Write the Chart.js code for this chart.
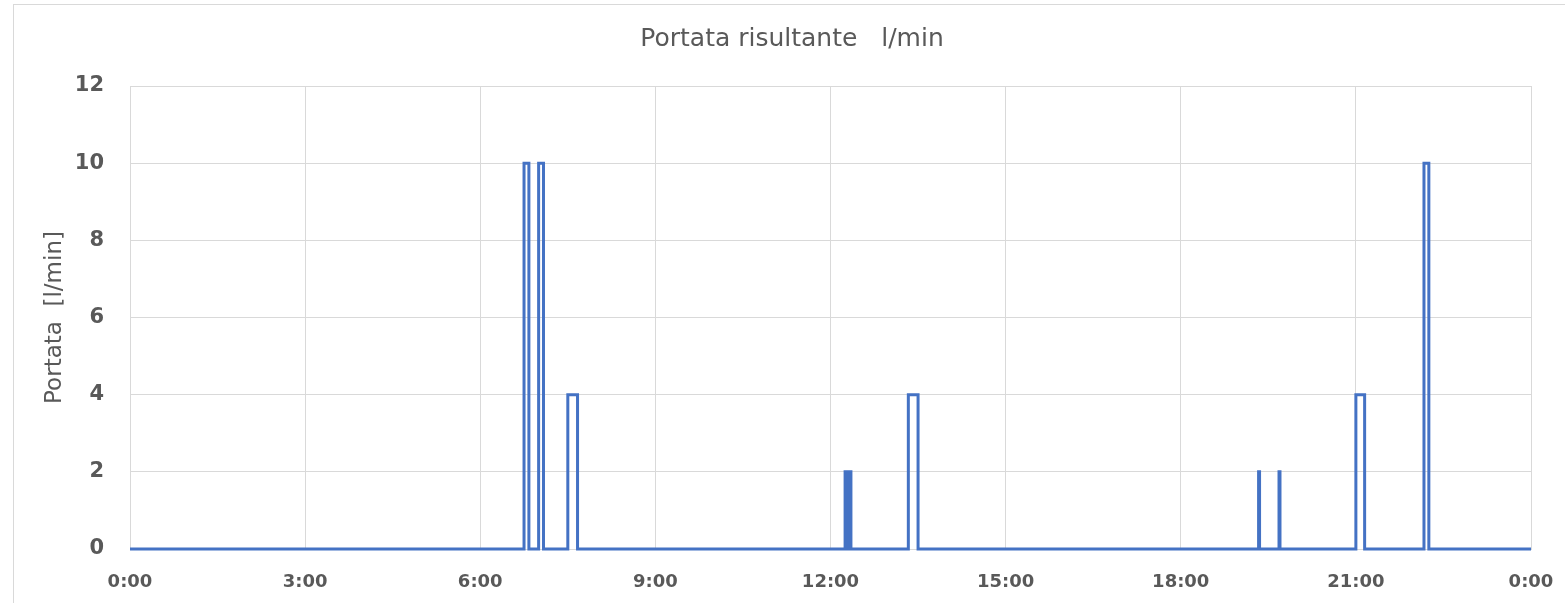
<!DOCTYPE html>
<html>
<head>
<meta charset="utf-8">
<script src="https://cdn.jsdelivr.net/npm/chart.js@4"></script>
<style>
  html, body { margin: 0; padding: 0; background: #fff; }
  #frame { position: absolute; left: 13px; top: 4px; width: 1600px; height: 700px; border: 1px solid #d9d9d9; }
  #chart { position: absolute; left: 0; top: 0; }
</style>
</head>
<body>
<div id="frame"></div>
<canvas id="chart" width="1565" height="603"></canvas>
<script>
// istanti in cui cambia la portata (h:mm) e portata da quell'istante in poi
const changeTimes = ['0:00', '6:45', '6:50', '7:00', '7:05', '7:30', '7:40',
  '12:15', '12:17', '12:19', '12:21', '13:20', '13:30',
  '19:20', '19:21', '19:41', '19:42', '21:00', '21:09', '22:10', '22:15', '24:00'];
const flowValues = [0, 10, 0, 10, 0, 4, 0,
  2, 0, 2, 0, 4, 0,
  2, 0, 2, 0, 4, 0, 10, 0, 0];
const yTicks = [0, 2, 4, 6, 8, 10, 12];
const xTickHours = [0, 3, 6, 9, 12, 15, 18, 21, 24];

const toMinutes = s => {
  const [h, m] = s.split(':').map(Number);
  return h * 60 + m;
};
const fmtTime = v => `${Math.floor(v / 60) % 24}:${String(v % 60).padStart(2, '0')}`;

const points = changeTimes.map((t, i) => ({ x: toMinutes(t), y: flowValues[i] }));
const txt = '#595959';
const gridCol = '#d9d9d9';

new Chart(document.getElementById('chart'), {
  type: 'line',
  data: {
    datasets: [{
      data: points,
      stepped: 'before',
      borderColor: '#4472C4',
      borderWidth: 3,
      borderJoinStyle: 'miter',
      pointRadius: 0,
      fill: false,
      clip: false
    }]
  },
  options: {
    responsive: false,
    animation: false,
    // padding sinistro serve a centrare il titolo come nell'originale
    layout: { padding: { left: 53, right: 34, top: 0, bottom: 0 } },
    plugins: {
      legend: { display: false },
      tooltip: { enabled: false },
      title: {
        display: true,
        text: 'Portata risultante   l/min',
        color: txt,
        font: { family: 'DejaVu Sans', size: 25, weight: 'normal' },
        padding: { top: 24, bottom: 32 }
      }
    },
    scales: {
      x: {
        type: 'linear',
        min: 0,
        max: 1440,
        afterBuildTicks: s => { s.ticks = xTickHours.map(h => ({ value: h * 60 })); },
        afterFit: s => { s.height = 54; s.paddingLeft = 0; s.paddingRight = 0; },
        grid: { color: gridCol, drawTicks: false },
        border: { color: gridCol },
        ticks: {
          color: txt,
          padding: 23,
          maxRotation: 0,
          autoSkip: false,
          font: { family: 'DejaVu Sans', size: 18, weight: 'bold' },
          callback: v => fmtTime(v)
        }
      },
      y: {
        min: 0,
        max: 12,
        afterBuildTicks: s => { s.ticks = yTicks.map(v => ({ value: v })); },
        afterFit: s => { s.width = 77; s.paddingTop = 0; s.paddingBottom = 0; },
        grid: { color: gridCol, drawTicks: false },
        border: { color: gridCol },
        title: {
          display: true,
          text: 'Portata  [l/min]',
          color: txt,
          font: { family: 'DejaVu Sans', size: 23, weight: 'normal' },
          padding: { top: -12, bottom: 0 }
        },
        ticks: {
          color: txt,
          padding: 26,
          font: { family: 'DejaVu Sans', size: 21, weight: 'bold' }
        }
      }
    }
  }
});
</script>
</body>
</html>
